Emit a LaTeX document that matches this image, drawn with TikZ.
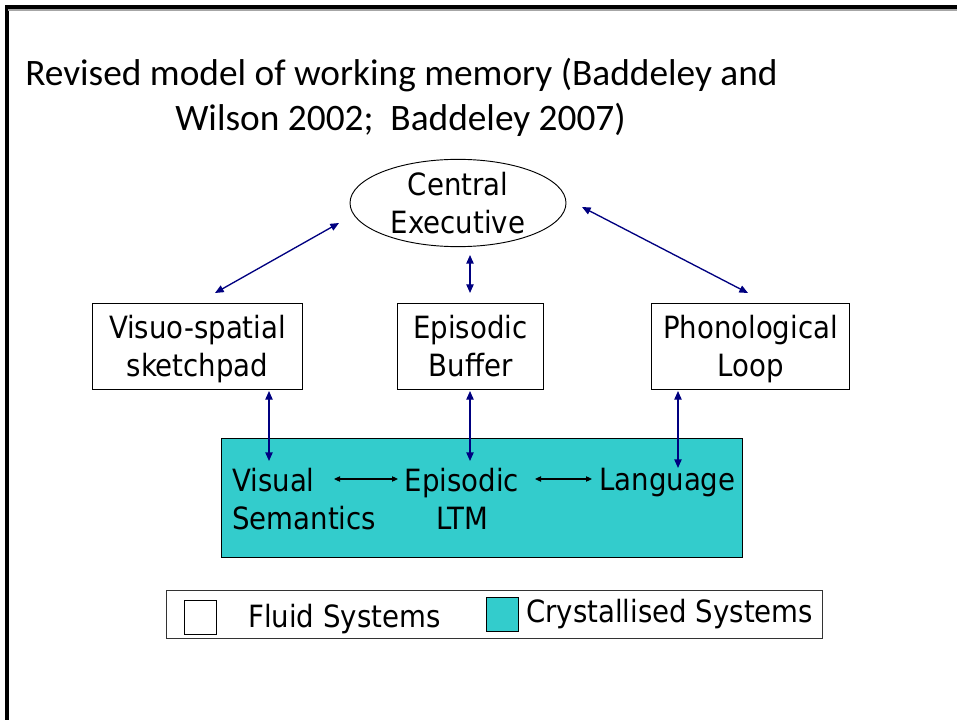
\documentclass[tikz,border=0pt]{standalone}
\usepackage{fontspec}
\usetikzlibrary{shapes.geometric,arrows.meta,calc}
\setmainfont{Carlito}
\newfontfamily\diagfont{DejaVu Sans Condensed}
\definecolor{crystal}{RGB}{51,204,204}
\definecolor{linknavy}{RGB}{0,0,128}
\tikzset{
  lbl/.style={font=\diagfont\fontsize{23}{28.5}\selectfont, inner sep=0pt, align=center},
  fluidbox/.style={lbl, draw=black, line width=0.7pt, fill=white},
  navylink/.style={draw=linknavy, line width=1pt, {Triangle[length=6.5pt,width=5.5pt]}-{Triangle[length=6.5pt,width=5.5pt]}},
  blacklink/.style={draw=black, line width=0.8pt, {Triangle[length=4.5pt,width=4pt]}-{Triangle[length=4.5pt,width=4pt]}},
  titletext/.style={font=\fontsize{28}{34}\selectfont, inner sep=0pt, anchor=base west}
}
\begin{document}
\begin{tikzpicture}[x=0.75pt,y=-0.75pt]
\useasboundingbox (0,0) rectangle (957,720);
% slide frame
\draw[line width=3pt] (6.5,720) -- (6.5,7) -- (957,7);
\draw[black!35, line width=0.8pt] (8,10) -- (957,10);

% title
\node[titletext] (t1) at (25,86) {Revised model of working memory (Baddeley and};
\node[titletext] (t2) at (175,131) {Wilson 2002;\ \ Baddeley 2007)};

% central executive
\node[lbl, draw=black, line width=0.7pt, ellipse, minimum width=162pt, minimum height=64.5pt] (ce) at (458,203) {Central\\Executive};

% slave systems (descenders on the second line are smashed so all boxes centre alike)
\node[fluidbox, minimum width=158pt, minimum height=64.5pt] (vsp) at (197.5,346) {Visuo-spatial\\sketch\smash{p}ad};
\node[fluidbox, minimum width=109pt, minimum height=64.5pt] (eb) at (470.5,346) {Episodic\\Buffer};
\node[fluidbox, minimum width=148pt, minimum height=64.5pt] (pl) at (750.5,346) {Phonological\\Loo\smash{p}};

% crystallised systems
\node[draw=black, line width=0.7pt, fill=crystal, minimum width=390.75pt, minimum height=89.25pt, inner sep=0pt] (cs) at (481.5,497.5) {};
\node[lbl, align=left, anchor=north west] (vis) at (232,468) {Visual\\Semantics};
\node[lbl, anchor=north] (ltm) at (462,468) {Episodic\\LTM};
\node[lbl, anchor=north west] (lang) at (599,468) {Language};

% arrow end points
\coordinate (ceL) at (339,223);
\coordinate (vspT) at (215,293);
\coordinate (ceR) at (582,207);
\coordinate (plT) at (748,293);
\coordinate (ceB) at (470,255);
\coordinate (ebT) at (470,293);
\coordinate (vspB) at (269,391);
\coordinate (visT) at (269,461);
\coordinate (ebB) at (470,391);
\coordinate (ltmT) at (470,461);
\coordinate (plB) at (678,391);
\coordinate (langT) at (678,468);
\coordinate (visR) at (334,479);
\coordinate (ltmL) at (398,479);
\coordinate (ltmR) at (535,479);
\coordinate (langL) at (592,479);

\draw[navylink] (ceL) -- (vspT);
\draw[navylink] (ceR) -- (plT);
\draw[navylink] (ceB) -- (ebT);
\draw[navylink] (vspB) -- (visT);
\draw[navylink] (ebB) -- (ltmT);
\draw[navylink] (plB) -- (langT);
\draw[blacklink] (visR) -- (ltmL);
\draw[blacklink] (ltmR) -- (langL);

% legend
\node[draw=black!80, line width=0.6pt, minimum width=492pt, minimum height=36pt, inner sep=0pt] (legend) at (494,614) {};
\node[draw=black, line width=0.6pt, fill=white, minimum width=24pt, minimum height=25.5pt, inner sep=0pt] (fluidkey) at (200,617) {};
\node[draw=black, line width=0.6pt, fill=crystal, minimum width=24pt, minimum height=25.5pt, inner sep=0pt] (crystkey) at (502,614) {};
\node[lbl, anchor=base west] (fluidtxt) at (248,627) {Fluid Systems};
\node[lbl, anchor=base west] (crysttxt) at (526,622) {Crystallised Systems};
\end{tikzpicture}
\end{document}
